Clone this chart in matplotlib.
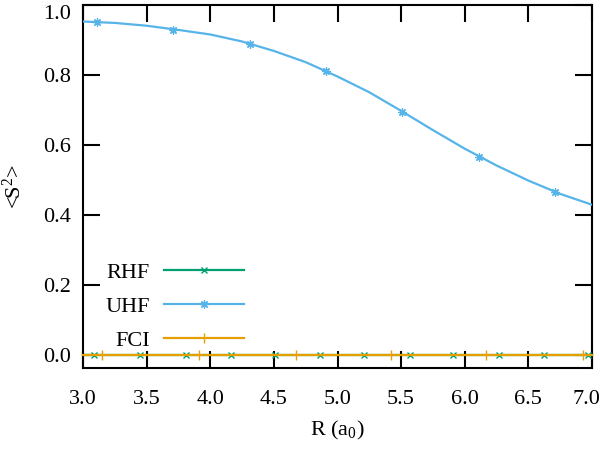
import matplotlib
matplotlib.use("Agg")
import matplotlib.pyplot as plt
from matplotlib.lines import Line2D
from matplotlib.transforms import ScaledTranslation

plt.rcParams['font.family'] = ['Liberation Serif', 'DejaVu Serif']
plt.rcParams['mathtext.fontset'] = 'custom'
plt.rcParams['mathtext.rm'] = 'Liberation Serif'
plt.rcParams['mathtext.it'] = 'Liberation Serif'

# UHF curve
R_uhf = [3.0, 3.25, 3.5, 3.75, 4.0, 4.25, 4.5, 4.75, 5.0, 5.25, 5.5, 5.75,
         6.0, 6.25, 6.5, 6.75, 7.0]
S_uhf = [0.952, 0.948, 0.940, 0.928, 0.915, 0.895, 0.868, 0.836, 0.795, 0.750,
         0.697, 0.642, 0.589, 0.541, 0.498, 0.460, 0.429]
# UHF marker points
R_uhf_pts = [3.11, 3.71, 4.31, 4.91, 5.51, 6.11, 6.71]
S_uhf_pts = [0.950, 0.929, 0.888, 0.811, 0.694, 0.564, 0.465]

# RHF and FCI (zero everywhere)
R_line = [3.0, 7.0]
S_rhf = [0.0, 0.0]
S_fci = [0.0, 0.0]
R_rhf_pts = [3.09, 3.45, 3.81, 4.16, 4.51, 4.86, 5.21, 5.57, 5.91, 6.27, 6.62, 6.97]
S_rhf_pts = [0.0] * len(R_rhf_pts)
R_fci_pts = [3.15, 3.91, 4.67, 5.42, 6.17, 6.93]
S_fci_pts = [0.0] * len(R_fci_pts)

labels = ["RHF", "UHF", "FCI"]
colors = ["#009e73", "#56b4e9", "#e69f00"]
x_ticks = [3.0, 3.5, 4.0, 4.5, 5.0, 5.5, 6.0, 6.5, 7.0]
y_ticks = [0.0, 0.2, 0.4, 0.6, 0.8, 1.0]

star = (8, 2, 0)
FS = 16

fig = plt.figure(figsize=(6, 4.5), dpi=100)
ax = fig.add_axes([83/600, 1-368/450, (592-83)/600, (368-4.7)/450])

lw = 1.6
ax.plot(R_line, S_rhf, color=colors[0], lw=lw, clip_on=False, zorder=3)
ax.plot(R_rhf_pts, S_rhf_pts, ls='none', marker='x', ms=5, mew=1.0,
        color=colors[0], clip_on=False, zorder=3)
ax.plot(R_uhf, S_uhf, color=colors[1], lw=lw, zorder=3)
ax.plot(R_uhf_pts, S_uhf_pts, ls='none', marker=star, ms=6, mew=0.9,
        color=colors[1], zorder=3)
ax.plot(R_line, S_fci, color=colors[2], lw=lw, clip_on=False, zorder=4)
ax.plot(R_fci_pts, S_fci_pts, ls='none', marker='|', ms=7, mew=1.0,
        color=colors[2], clip_on=False, zorder=4)

ax.set_xlim(3.0, 7.0)
ax.set_ylim(-0.037, 1.0)
ax.set_xticks(x_ticks)
ax.set_yticks(y_ticks)
ax.set_xticklabels([f"{v:.1f}" for v in x_ticks])
ax.set_yticklabels([f"{v:.1f}" for v in y_ticks])
ax.tick_params(direction='in', length=12, width=1.5, labelsize=FS,
               top=True, right=True)
ax.tick_params(axis='x', pad=16)
ax.tick_params(axis='y', pad=9)
for s in ax.spines.values():
    s.set_linewidth(1.5)
ax.get_yticklabels()[-1].set_verticalalignment('top')
last = ax.get_xticklabels()[-1]
last.set_transform(last.get_transform() + ScaledTranslation(-0.06, 0, fig.dpi_scale_trans))

ax.set_xlabel("R (a$_0$)", fontsize=FS, labelpad=7)
ax.set_ylabel("<S$^2$>", fontsize=FS, labelpad=12)

handles = [
    Line2D([], [], color=colors[0], lw=lw, marker='x', ms=5, mew=1.0),
    Line2D([], [], color=colors[1], lw=lw, marker=star, ms=6, mew=0.9),
    Line2D([], [], color=colors[2], lw=lw, marker='|', ms=7, mew=1.0),
]
leg = ax.legend(handles, labels, loc='lower left', bbox_to_anchor=(0.004, -0.009),
                frameon=False, markerfirst=False, numpoints=1,
                handlelength=3.6, handletextpad=0.63, labelspacing=0.62,
                fontsize=FS, borderaxespad=0.5)

fig.savefig("out.png", dpi=100)
